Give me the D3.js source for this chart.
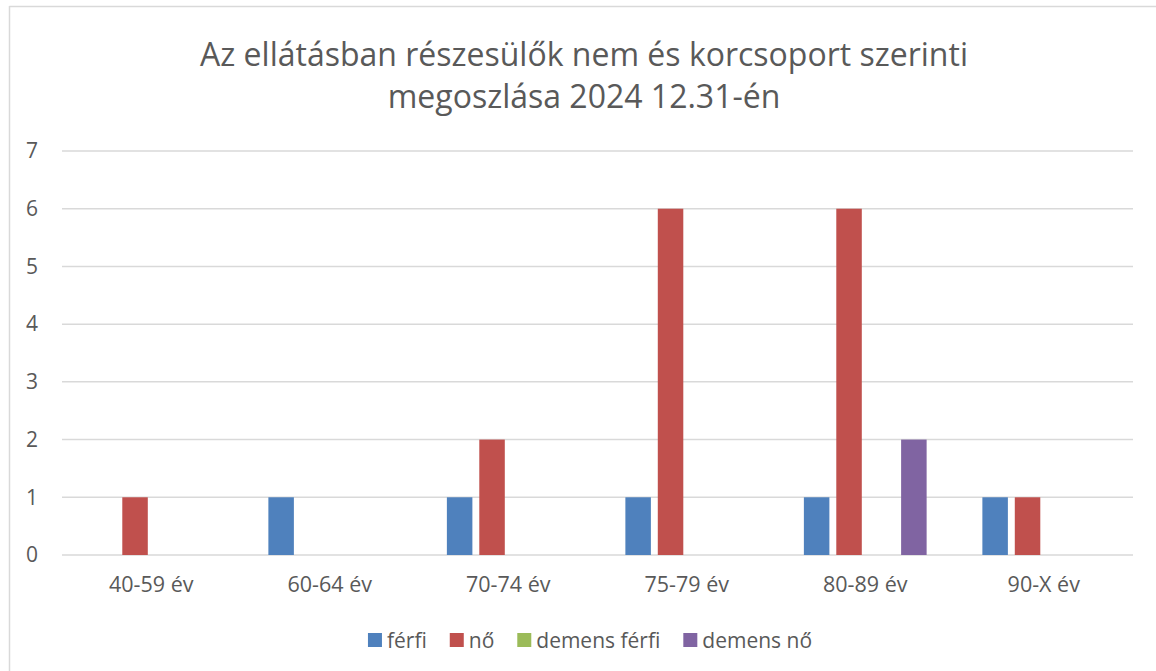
<!DOCTYPE html>
<html>
<head>
<meta charset="utf-8">
<script src="https://cdn.jsdelivr.net/npm/d3@7"></script>
<style>
  body { margin: 0; background: #fff; }
  text { font-family: "Open Sans", sans-serif; fill: #595959; }
</style>
</head>
<body>
<div id="chart"></div>
<script>
const categories = ["40-59 év", "60-64 év", "70-74 év", "75-79 év", "80-89 év", "90-X év"];
const seriesNames = ["férfi", "nő", "demens férfi", "demens nő"];
const ferfi = [0, 1, 1, 1, 1, 1];
const no = [1, 0, 2, 6, 6, 1];
const demensFerfi = [0, 0, 0, 0, 0, 0];
const demensNo = [0, 0, 0, 0, 2, 0];
const yTicks = [0, 1, 2, 3, 4, 5, 6, 7];
const titleLines = ["Az ellátásban részesülők nem és korcsoport szerinti", "megoszlása 2024 12.31-én"];

const colors = ["#4F81BD", "#C0504D", "#9BBB59", "#8064A2"];
const seriesValues = [ferfi, no, demensFerfi, demensNo];

const W = 1156, H = 671;
const svg = d3.select("#chart").append("svg")
  .attr("width", W).attr("height", H);

// chart frame (top + left edge only are visible)
svg.append("line").attr("x1", 9.5).attr("x2", W).attr("y1", 6.5).attr("y2", 6.5)
  .attr("stroke", "#d9d9d9").attr("stroke-width", 1.5);
svg.append("line").attr("x1", 9.5).attr("x2", 9.5).attr("y1", 6).attr("y2", H)
  .attr("stroke", "#d9d9d9").attr("stroke-width", 1.5);

// title
svg.append("g").selectAll("text")
  .data(titleLines)
  .enter().append("text")
  .attr("x", 584)
  .attr("y", (d, i) => 66 + i * 42)
  .attr("text-anchor", "middle")
  .style("font-size", "32px")
  .text(d => d);

const x0 = d3.scaleBand().domain(categories).range([62, 1133]).padding(0);
const x1 = d3.scaleBand().domain(seriesNames).range([0, x0.bandwidth()])
  .paddingInner(0.213).paddingOuter(0.86);
const y = d3.scaleLinear().domain([0, 7]).range([555, 151]);

// gridlines
svg.append("g").selectAll("line")
  .data(yTicks)
  .enter().append("line")
  .attr("x1", 62).attr("x2", 1133)
  .attr("y1", d => y(d)).attr("y2", d => y(d))
  .attr("stroke", "#d9d9d9").attr("stroke-width", 1.5);

// y axis labels
const yAxis = d3.axisLeft(y).tickValues(yTicks).tickFormat(d3.format("d"))
  .tickSize(0).tickPadding(0);
svg.append("g").attr("transform", "translate(38,0)").call(yAxis)
  .call(g => g.select(".domain").remove())
  .selectAll("text").style("font-size", "21px").attr("fill", "#595959");

// x axis labels
const xAxis = d3.axisBottom(x0).tickSize(0).tickPadding(0);
svg.append("g").attr("transform", "translate(0,577)").call(xAxis)
  .call(g => g.select(".domain").remove())
  .selectAll("text").style("font-size", "21.5px").attr("fill", "#595959");

// bars
const rows = [];
categories.forEach((c, i) => {
  seriesNames.forEach((s, j) => {
    rows.push({cat: c, series: s, value: seriesValues[j][i], color: colors[j]});
  });
});

svg.append("g").selectAll("rect")
  .data(rows.filter(d => d.value > 0))
  .enter().append("rect")
  .attr("x", d => x0(d.cat) + x1(d.series))
  .attr("y", d => y(d.value))
  .attr("width", x1.bandwidth())
  .attr("height", d => y(0) - y(d.value))
  .attr("fill", d => d.color);

// legend
const legend = svg.append("g");
const items = legend.selectAll("g")
  .data(seriesNames)
  .enter().append("g");
items.append("rect")
  .attr("width", 14).attr("height", 14)
  .attr("y", 633)
  .attr("fill", (d, i) => colors[i]);
items.append("text")
  .attr("x", 19)
  .attr("y", 648)
  .style("font-size", "21px")
  .text(d => d);

let offset = 0;
const positions = [];
items.each(function() {
  const w = d3.select(this).select("text").node().getComputedTextLength();
  positions.push(offset);
  offset += 19 + w + 23;
});
const total = offset - 23;
const start = 590 - total / 2;
items.attr("transform", (d, i) => `translate(${start + positions[i]},0)`);
</script>
</body>
</html>
